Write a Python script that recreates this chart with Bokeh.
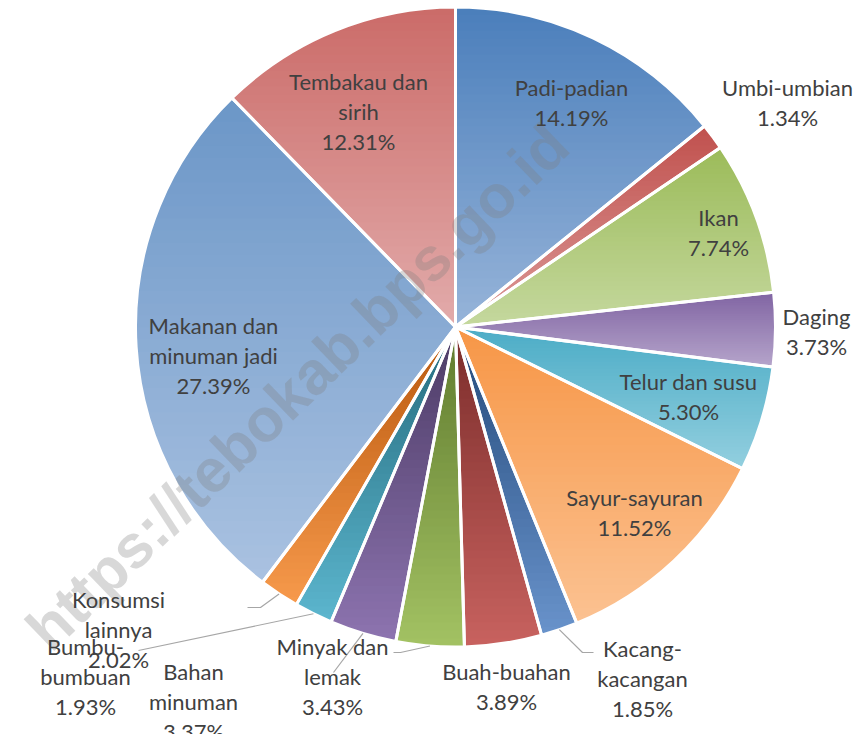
import numpy as np
from bokeh.plotting import figure
from bokeh.core.properties import value
from bokeh.embed import file_html
from bokeh.resources import INLINE

# ---------------- data ----------------
categories = ["Padi-padian", "Umbi-umbian", "Ikan", "Daging", "Telur dan susu",
              "Sayur-sayuran", "Kacang-kacangan", "Buah-buahan", "Minyak dan lemak",
              "Bahan minuman", "Bumbu-bumbuan", "Konsumsi lainnya",
              "Makanan dan minuman jadi", "Tembakau dan sirih"]
shares = [14.19, 1.34, 7.74, 3.73, 5.30, 11.52, 1.85, 3.89, 3.43, 3.37, 1.93, 2.02, 27.39, 12.31]
label_names = ["Padi-padian", "Umbi-umbian", "Ikan", "Daging", "Telur dan susu",
               "Sayur-sayuran", "Kacang-\nkacangan", "Buah-buahan", "Minyak dan\nlemak",
               "Bahan\nminuman", "Bumbu-\nbumbuan", "Konsumsi\nlainnya",
               "Makanan dan\nminuman jadi", "Tembakau dan\nsirih"]
watermark = "https://tebokab.bps.go.id"

# ---------------- style ----------------
top_colors = ["#4a7ebb", "#c0504d", "#9bbb59", "#8064a2", "#4bacc6", "#f79646",
              "#23497a", "#7a2c2a", "#5f7a2e", "#4b3a64", "#246a7c", "#b8570c",
              "#6b96c7", "#cb6b68"]
bottom_colors = ["#97b4d9", "#dc9a98", "#c5d89e", "#b5a4cb", "#93cfdf", "#fbc292",
                 "#6993cb", "#c8625f", "#a3c263", "#8d74b0", "#5cb6ce", "#f79a4c",
                 "#aac2e1", "#e2abab"]
R = 320.0
# label block centres (pixel offsets from pie centre)
label_x = [116, 332, 263, 361, 233, 179, 187, 51, -123, -262, -370, -337, -242, -97]
label_y = [224.5, 224.5, 94.5, -4.5, -69.5, -185.5, -351.5, -359.5, -349.5, -374.5, -349.5, -302.5, -28.5, 215.5]
# leader line bends (only for outside labels that have one)
leaders = {6: [(127, -325.5), (138, -325.5)],
           8: [(-55, -325.5), (-62, -325.5)],
           9: [(-122, -345.5)],
           10: [(-317, -323.5)],
           11: [(-195, -280.5), (-208, -280.5)]}


def hex2rgb(h):
    h = h.lstrip("#")
    return np.array([int(h[i:i + 2], 16) for i in (0, 2, 4)], dtype=float)


def mix(c0, c1, t):
    c = (1 - t) * hex2rgb(c0) + t * hex2rgb(c1)
    return "#%02x%02x%02x" % tuple(int(round(v)) for v in c)


def clip(poly, c, keep_below):
    out = []
    n = len(poly)
    for i in range(n):
        p1 = poly[i]
        p2 = poly[(i + 1) % n]
        in1 = (p1[1] <= c) if keep_below else (p1[1] >= c)
        in2 = (p2[1] <= c) if keep_below else (p2[1] >= c)
        if in1:
            out.append(p1)
        if in1 != in2:
            t = (c - p1[1]) / (p2[1] - p1[1])
            out.append((p1[0] + t * (p2[0] - p1[0]), c))
    return out


total = sum(shares)
fr = np.array(shares) / total
cum = np.concatenate([[0], np.cumsum(fr)])
start_angles = [np.pi / 2 - 2 * np.pi * cum[i + 1] for i in range(len(shares))]
end_angles = [np.pi / 2 - 2 * np.pi * cum[i] for i in range(len(shares))]
mid_angles = [(a + b) / 2 for a, b in zip(start_angles, end_angles)]
mid_colors = [mix(t, b, 0.5) for t, b in zip(top_colors, bottom_colors)]

p = figure(width=857, height=734, x_range=(-455, 402), y_range=(-407.5, 326.5),
           output_backend="svg", toolbar_location=None,
           x_axis_location=None, y_axis_location=None, min_border=0)
p.grid.visible = False
p.outline_line_color = None
p.background_fill_color = "white"

# base wedges
p.wedge(x=0, y=0, radius=R, start_angle=start_angles, end_angle=end_angles,
        fill_color=mid_colors, line_color=None)

# vertical gradient overlay
xs, ys, cols = [], [], []
N = 40
for i in range(len(shares)):
    a0, a1 = start_angles[i], end_angles[i]
    n = max(6, int(np.degrees(a1 - a0) * 2))
    arc = np.linspace(a0, a1, n)
    poly = [(0.0, 0.0)] + [(R * np.cos(a), R * np.sin(a)) for a in arc]
    ymax = max(q[1] for q in poly)
    ymin = min(q[1] for q in poly)
    h = (ymax - ymin) / N
    for k in range(N):
        yh = ymax - k * h
        yl = yh - h
        sub = clip(poly, yh + 0.6, True)
        sub = clip(sub, yl - 0.6, False)
        if len(sub) < 3:
            continue
        xs.append([q[0] for q in sub])
        ys.append([q[1] for q in sub])
        cols.append(mix(top_colors[i], bottom_colors[i], (k + 0.5) / N))
p.patches(xs=xs, ys=ys, fill_color=cols, line_color=None)

# white borders
p.wedge(x=0, y=0, radius=R, start_angle=start_angles, end_angle=end_angles,
        fill_color=None, line_color="white", line_width=3)

# watermark
p.text(x=[-158], y=[-60], text=[watermark], angle=np.radians(44),
       text_font=value("Liberation Sans"), text_font_style="bold",
       text_font_size="61px", text_color="#7f7f7f", text_alpha=0.3,
       text_align="center", text_baseline="middle")

# leader lines
lx, ly = [], []
for i, pts in leaders.items():
    a = mid_angles[i]
    lx.append([R * np.cos(a)] + [q[0] for q in pts])
    ly.append([R * np.sin(a)] + [q[1] for q in pts])
p.multi_line(xs=lx, ys=ly, line_color="#a6a6a6", line_width=1.2)

# labels
texts = [f"{n}\n{v:.2f}%" for n, v in zip(label_names, shares)]
p.text(x=label_x, y=label_y, text=texts, text_font=value("Lato"),
       text_font_size="22px", text_color="#404040", text_align="center",
       text_baseline="middle", text_line_height=1.1)

open("out.html", "w").write(file_html(p, INLINE))
